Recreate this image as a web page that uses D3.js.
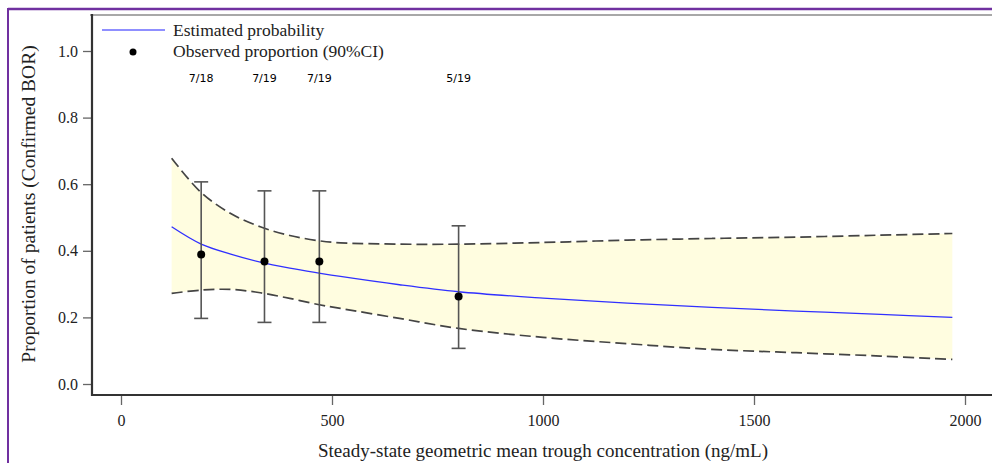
<!DOCTYPE html>
<html>
<head>
<meta charset="utf-8">
<script src="https://cdn.jsdelivr.net/npm/d3@7"></script>
<style>
  body { margin: 0; background: #fff; }
  svg { display: block; }
</style>
</head>
<body>
<div id="chart"></div>
<script>
// model curve
var conc = [120, 190, 260, 330, 400, 470, 520, 660, 800, 1000, 1200, 1400, 1600, 1800, 1970];
var estProb = [0.472, 0.420, 0.390, 0.366, 0.348, 0.333, 0.323, 0.298, 0.277, 0.258, 0.243, 0.230, 0.219, 0.209, 0.200];
var upperCI = [0.678, 0.575, 0.512, 0.472, 0.446, 0.430, 0.424, 0.420, 0.420, 0.425, 0.432, 0.437, 0.441, 0.447, 0.452];
var lowerCI = [0.272, 0.282, 0.284, 0.274, 0.257, 0.238, 0.227, 0.197, 0.167, 0.140, 0.121, 0.104, 0.094, 0.084, 0.074];

// observed proportions
var obsConc = [190, 340, 470, 800];
var obsProp = [0.389, 0.368, 0.368, 0.263];
var obsLow = [0.197, 0.185, 0.185, 0.107];
var obsHigh = [0.607, 0.580, 0.580, 0.475];
var obsLabels = ["7/18", "7/19", "7/19", "5/19"];

var xTicks = [0, 500, 1000, 1500, 2000];
var yTicks = [0, 0.2, 0.4, 0.6, 0.8, 1.0];

function main() {
    var W = 992, H = 463;
    var svg = d3.select("#chart").append("svg")
        .attr("width", W)
        .attr("height", H);

    var x = d3.scaleLinear().domain([0, 2000]).range([121, 965]);
    var y = d3.scaleLinear().domain([0, 1]).range([384, 51]);

    var serif = "'Liberation Serif', 'Times New Roman', serif";
    var smooth = d3.curveCatmullRom.alpha(0.5);

    // outer purple frame
    svg.append("line").attr("x1", 8).attr("x2", W).attr("y1", 9).attr("y2", 9)
        .attr("stroke", "#7030a0").attr("stroke-width", 2.5);
    svg.append("line").attr("x1", 8).attr("x2", 8).attr("y1", 8).attr("y2", H)
        .attr("stroke", "#7030a0").attr("stroke-width", 2);
    // top gray edge of the plot
    svg.append("line").attr("x1", 90).attr("x2", W).attr("y1", 15).attr("y2", 15)
        .attr("stroke", "#a8a8a8").attr("stroke-width", 2);

    var rows = conc.map(function (c, i) {
        return {c: c, est: estProb[i], lo: lowerCI[i], hi: upperCI[i]};
    });

    // confidence band
    svg.append("path")
        .datum(rows)
        .attr("fill", "#fffde0")
        .attr("d", d3.area()
            .curve(smooth)
            .x(function (d) { return x(d.c); })
            .y0(function (d) { return y(d.lo); })
            .y1(function (d) { return y(d.hi); }));

    ["hi", "lo"].forEach(function (k) {
        svg.append("path")
            .datum(rows)
            .attr("fill", "none")
            .attr("stroke", "#444")
            .attr("stroke-width", 1.7)
            .attr("stroke-dasharray", "11,5")
            .attr("d", d3.line()
                .curve(smooth)
                .x(function (d) { return x(d.c); })
                .y(function (d) { return y(d[k]); }));
    });

    svg.append("path")
        .datum(rows)
        .attr("fill", "none")
        .attr("stroke", "#3030ff")
        .attr("stroke-width", 1.3)
        .attr("d", d3.line()
            .curve(smooth)
            .x(function (d) { return x(d.c); })
            .y(function (d) { return y(d.est); }));

    // error bars
    var obs = obsConc.map(function (c, i) {
        return {c: c, p: obsProp[i], lo: obsLow[i], hi: obsHigh[i], lab: obsLabels[i]};
    });
    var eb = svg.append("g").attr("stroke", "#555").attr("stroke-width", 1.6);
    eb.selectAll(".v").data(obs).join("line")
        .attr("x1", function (d) { return x(d.c); })
        .attr("x2", function (d) { return x(d.c); })
        .attr("y1", function (d) { return y(d.lo); })
        .attr("y2", function (d) { return y(d.hi); });
    ["lo", "hi"].forEach(function (k) {
        eb.selectAll(".cap-" + k).data(obs).join("line")
            .attr("x1", function (d) { return x(d.c) - 7; })
            .attr("x2", function (d) { return x(d.c) + 7; })
            .attr("y1", function (d) { return y(d[k]); })
            .attr("y2", function (d) { return y(d[k]); });
    });

    svg.selectAll(".pt").data(obs).join("circle")
        .attr("cx", function (d) { return x(d.c); })
        .attr("cy", function (d) { return y(d.p); })
        .attr("r", 4)
        .attr("fill", "#000");

    // n/N labels
    svg.selectAll(".nlab").data(obs).join("text")
        .attr("x", function (d) { return x(d.c); })
        .attr("y", 82)
        .attr("text-anchor", "middle")
        .attr("font-family", "'DejaVu Sans', Verdana, sans-serif")
        .attr("font-size", "11px")
        .attr("fill", "#000")
        .text(function (d) { return d.lab; });

    // axes
    var yAxis = svg.append("g")
        .attr("transform", "translate(91,0)")
        .call(d3.axisLeft(y).tickValues(yTicks).tickFormat(d3.format(".1f")).tickSize(8).tickPadding(5));
    var xAxis = svg.append("g")
        .attr("transform", "translate(0,396)")
        .call(d3.axisBottom(x).tickValues(xTicks).tickFormat(d3.format("d")).tickSize(9).tickPadding(10));
    [yAxis, xAxis].forEach(function (a) {
        a.select(".domain").remove();
        a.selectAll(".tick line").attr("stroke", "#666").attr("stroke-width", 1.3);
        a.selectAll("text")
            .attr("font-family", serif)
            .attr("font-size", "16px")
            .attr("fill", "#222");
    });

    // axis lines
    svg.append("line").attr("x1", 92).attr("x2", 92).attr("y1", 14).attr("y2", 396)
        .attr("stroke", "#333").attr("stroke-width", 2.2);
    svg.append("line").attr("x1", 91).attr("x2", W).attr("y1", 395).attr("y2", 395)
        .attr("stroke", "#333").attr("stroke-width", 2.2);

    // axis titles
    svg.append("text")
        .attr("transform", "translate(35," + 204 + ") rotate(-90)")
        .attr("text-anchor", "middle")
        .attr("font-family", serif)
        .attr("font-size", "19.5px")
        .attr("fill", "#222")
        .text("Proportion of patients (Confirmed BOR)");
    svg.append("text")
        .attr("x", x(1000))
        .attr("y", 457)
        .attr("text-anchor", "middle")
        .attr("font-family", serif)
        .attr("font-size", "19px")
        .attr("fill", "#222")
        .text("Steady-state geometric mean trough concentration (ng/mL)");

    // legend
    var lg = svg.append("g");
    lg.append("line").attr("x1", 102).attr("x2", 165).attr("y1", 30).attr("y2", 30)
        .attr("stroke", "#6a6aff").attr("stroke-width", 1.6);
    lg.append("circle").attr("cx", 133).attr("cy", 52).attr("r", 3.5).attr("fill", "#000");
    lg.append("text").attr("x", 173).attr("y", 36)
        .attr("font-family", serif).attr("font-size", "17.5px").attr("fill", "#222")
        .text("Estimated probability");
    lg.append("text").attr("x", 173).attr("y", 57)
        .attr("font-family", serif).attr("font-size", "17.5px").attr("fill", "#222")
        .text("Observed proportion (90%CI)");
}

main()
</script>
</body>
</html>
